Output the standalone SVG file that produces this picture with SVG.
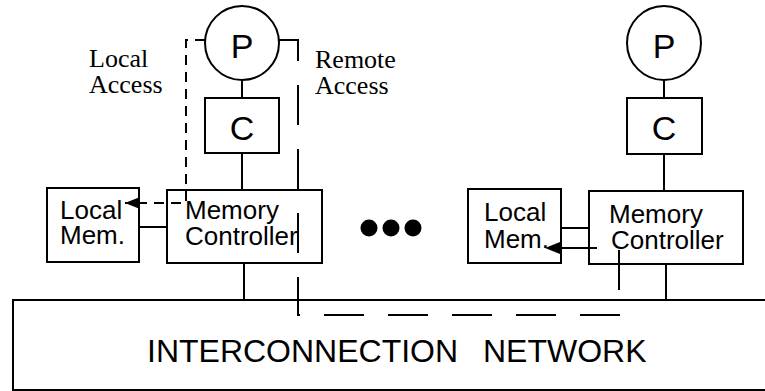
<svg xmlns="http://www.w3.org/2000/svg" width="765" height="391" viewBox="0 0 765 391">
<defs>
<style>
.box{fill:#fff;stroke:#000;stroke-width:2}
.ln{fill:none;stroke:#000;stroke-width:2}
.sans{font-family:"Liberation Sans",Arial,sans-serif;fill:#000}
.serif{font-family:"Liberation Serif","Times New Roman",serif;font-size:26px;fill:#000}
.big{font-size:34px}
.mid{font-size:26px}
.dshort{fill:none;stroke:#000;stroke-width:2;stroke-dasharray:10 7}
.dlong{fill:none;stroke:#000;stroke-width:2;stroke-dasharray:40 24}
</style>
<marker id="ah" markerWidth="16" markerHeight="12" refX="15" refY="6" orient="auto" markerUnits="userSpaceOnUse">
<path d="M0,0 L15,6 L0,12 Z" fill="#000"/>
</marker>
</defs>
<rect width="765" height="391" fill="#fff"/>

<g id="network">
<rect class="box" x="13" y="300" width="770" height="90"/>
<text class="sans" font-size="32" x="147" y="362">INTERCONNECTION</text>
<text class="sans" font-size="32" x="483" y="362">NETWORK</text>
</g>

<g id="connectors">
<line class="ln" x1="242" y1="80" x2="242" y2="98"/>
<line class="ln" x1="242" y1="153" x2="242" y2="190"/>
<line class="ln" x1="139" y1="227" x2="167" y2="227"/>
<line class="ln" x1="244" y1="263" x2="244" y2="300"/>
<line class="ln" x1="664" y1="80" x2="664" y2="98"/>
<line class="ln" x1="664" y1="154" x2="664" y2="191"/>
<line class="ln" x1="561" y1="228" x2="589" y2="228"/>
<line class="ln" x1="666" y1="264" x2="666" y2="300"/>
</g>

<g id="left-p"><circle class="box" cx="242" cy="43" r="37"/><text class="sans big" x="242" y="58" text-anchor="middle">P</text></g>
<g id="left-c"><rect class="box" x="205" y="98" width="74" height="55"/><text class="sans big" x="242" y="140" text-anchor="middle">C</text></g>
<g id="left-mc"><rect class="box" x="167" y="190" width="155" height="73"/><text class="sans mid" x="185" y="219">Memory</text><text class="sans mid" x="185" y="245">Controller</text></g>
<g id="left-mem"><rect class="box" x="47" y="188" width="92" height="74"/><text class="sans mid" x="60" y="219">Local</text><text class="sans mid" x="60" y="244">Mem.</text></g>

<g id="right-p"><circle class="box" cx="664" cy="43" r="37"/><text class="sans big" x="664" y="58" text-anchor="middle">P</text></g>
<g id="right-c"><rect class="box" x="627" y="98" width="75" height="56"/><text class="sans big" x="664" y="140" text-anchor="middle">C</text></g>
<g id="right-mc"><rect class="box" x="589" y="191" width="154" height="73"/><text class="sans mid" x="609" y="223">Memory</text><text class="sans mid" x="611" y="249">Controller</text></g>
<g id="right-mem"><rect class="box" x="468" y="189" width="93" height="74"/><text class="sans mid" x="484" y="221">Local</text><text class="sans mid" x="484" y="248">Mem.</text></g>

<g id="dots">
<circle cx="369" cy="228" r="8.5" fill="#000"/>
<circle cx="391" cy="228" r="8.5" fill="#000"/>
<circle cx="413" cy="228" r="8.5" fill="#000"/>
</g>

<g id="access-paths">
<path class="dshort" d="M205,40 H186 V203 H125" marker-end="url(#ah)"/>
<path class="dlong" d="M279,40 H298 V315 H619 V248 H545" marker-end="url(#ah)"/>
</g>

<g id="labels">
<text class="serif" x="89" y="67">Local</text>
<text class="serif" x="89" y="93">Access</text>
<text class="serif" x="315" y="68">Remote</text>
<text class="serif" x="315" y="94">Access</text>
</g>
</svg>
